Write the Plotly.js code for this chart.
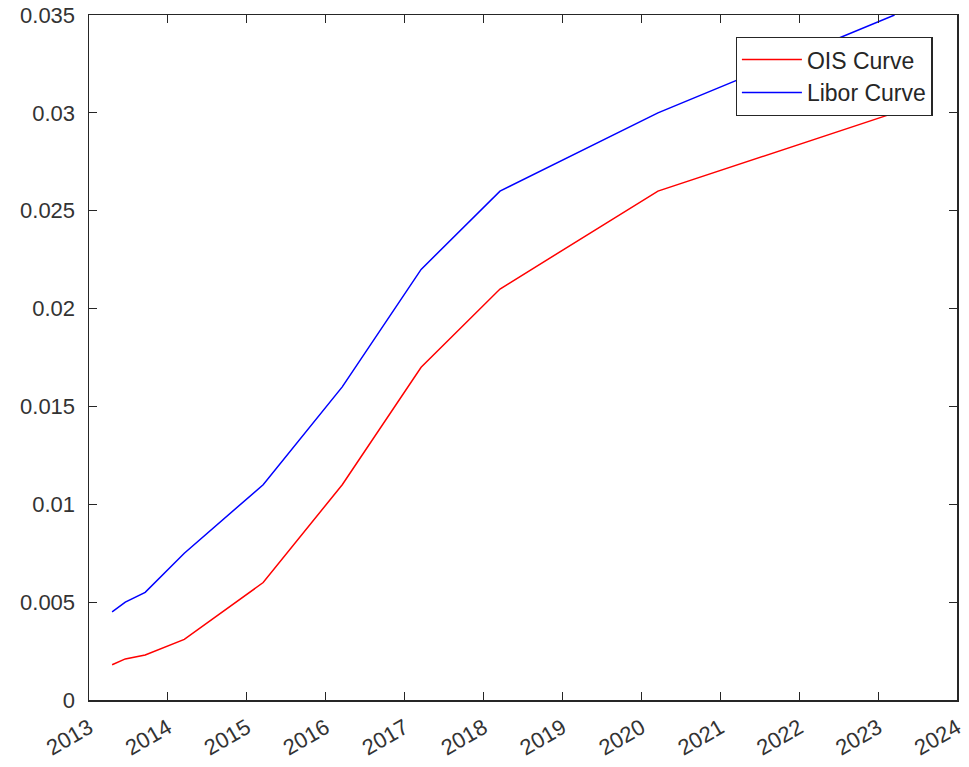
<!DOCTYPE html>
<html>
<head>
<meta charset="utf-8">
<script src="https://cdn.plot.ly/plotly-3.0.1.min.js"></script>
<style>
  html, body { margin: 0; padding: 0; background: #fff; }
  #chart { width: 969px; height: 767px; }
</style>
</head>
<body>
<div id="chart"></div>
<script>
// Curve node dates (settle + 1M, 3M, 6M, 1Y, 2Y, 3Y, 4Y, 5Y, 7Y, 10Y)
const dates = ['2013-04-18','2013-06-18','2013-09-18','2014-03-18','2015-03-18',
               '2016-03-18','2017-03-18','2018-03-18','2020-03-18','2023-03-18'];
const oisRates   = [0.0018, 0.0021, 0.0023, 0.0031, 0.0060, 0.0110, 0.0170, 0.0210, 0.0260, 0.0300];
const liborRates = [0.0045, 0.0050, 0.0055, 0.0075, 0.0110, 0.0160, 0.0220, 0.0260, 0.0300, 0.0350];
const yTickVals  = [0, 0.005, 0.01, 0.015, 0.02, 0.025, 0.03, 0.035];
const yTickText  = ['0','0.005','0.01','0.015','0.02','0.025','0.03','0.035'];

const font = { family: 'Liberation Sans, Arial, sans-serif', size: 22, color: '#333333' };

const traces = [
  { x: dates, y: oisRates, type: 'scatter', mode: 'lines', name: 'OIS Curve',
    line: { color: '#ff0000', width: 1.5 } },
  { x: dates, y: liborRates, type: 'scatter', mode: 'lines', name: 'Libor Curve',
    line: { color: '#0000ff', width: 1.5 } }
];

const axisCommon = {
  showline: true, linecolor: '#262626', linewidth: 1.5, mirror: 'ticks',
  ticks: 'inside', ticklen: 8, tickwidth: 1.2, tickcolor: '#262626',
  showgrid: false, zeroline: false, tickfont: font
};

const layout = {
  width: 969, height: 767,
  margin: { l: 89, r: 12, t: 15, b: 67 },
  paper_bgcolor: '#ffffff', plot_bgcolor: '#ffffff',
  font: font,
  showlegend: true,
  legend: {
    x: 0.972, y: 0.968, xanchor: 'right', yanchor: 'top',
    bgcolor: '#ffffff', bordercolor: '#262626', borderwidth: 1.2,
    font: { family: font.family, size: 23, color: '#262626' },
    itemwidth: 60, tracegroupgap: 0
  },
  xaxis: Object.assign({}, axisCommon, {
    type: 'date', range: ['2013-01-01', '2024-01-01'],
    tick0: '2013-01-01', dtick: 'M12', tickformat: '%Y',
    tickangle: -30, ticklabelstandoff: 5
  }),
  yaxis: Object.assign({}, axisCommon, {
    range: [0, 0.035], tickmode: 'array', tickvals: yTickVals, ticktext: yTickText,
    ticklabelstandoff: 8
  })
};

Plotly.newPlot('chart', traces, layout, { displayModeBar: false, staticPlot: true });
</script>
</body>
</html>
